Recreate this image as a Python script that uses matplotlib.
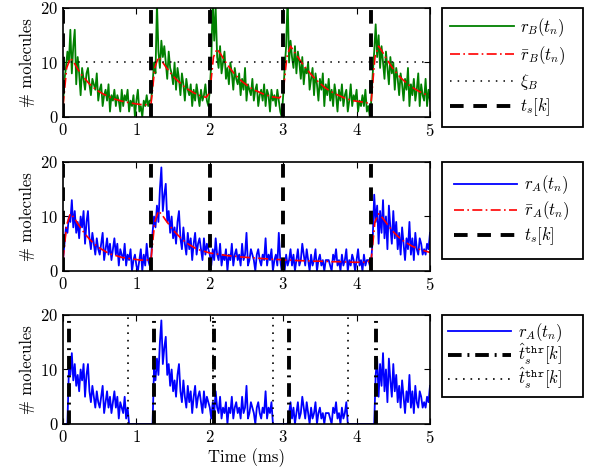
import numpy as np
import matplotlib
matplotlib.use("Agg")
import matplotlib.pyplot as plt

plt.rcParams["font.family"] = "cmr10"
plt.rcParams["mathtext.fontset"] = "cm"
plt.rcParams["axes.formatter.use_mathtext"] = True

# sample times (ms)
t = np.round(np.arange(251) * 0.02, 2)
t_mean = np.round(np.arange(101) * 0.05, 2)

# noisy molecule counts
r_B = [2, 7, 9, 12, 10, 16, 8, 13, 16, 6, 11, 8, 4, 9, 7, 5, 8, 9, 6, 4,
       7, 6, 5, 8, 3, 5, 6, 2, 4, 5, 3, 6, 1, 4, 3, 5, 2, 4, 3, 1,
       5, 2, 4, 3, 5, 1, 3, 2, 4, 0, 3, 5, 1, 2, 0, 3, 2, 4, 2, 3,
       3, 6, 10, 8, 21, 12, 9, 14, 11, 13, 10, 7, 12, 9, 8, 6, 10, 5, 9, 7,
       4, 8, 6, 3, 7, 5, 4, 6, 2, 5, 3, 6, 4, 2, 5, 3, 4, 6, 3, 2,
       5, 10, 22, 14, 20, 11, 9, 13, 8, 10, 12, 7, 9, 6, 10, 8, 5, 9, 7, 6,
       8, 4, 7, 5, 9, 3, 6, 5, 4, 7, 3, 5, 6, 2, 4, 5, 3, 6, 2, 5,
       4, 1, 5, 3, 4, 2, 5, 3, 1, 0,
       4, 9, 13, 22, 10, 14, 11, 9, 13, 8, 12, 10, 7, 11, 6, 9, 8, 10, 5, 7,
       9, 4, 8, 6, 3, 7, 5, 8, 2, 6, 4, 7, 3, 5, 2, 6, 4, 1, 5, 3,
       6, 2, 4, 5, 1, 3, 6, 2, 4, 3, 5, 1, 3, 2, 4, 2, 5, 1, 2, 0,
       3, 8, 12, 17, 11, 15, 9, 13, 10, 7, 12, 9, 6, 11, 8, 10, 5, 9, 7, 4,
       8, 6, 3, 7, 5, 9, 2, 6, 4, 7, 3, 5, 8, 2, 6, 4, 3, 7, 2, 5, 3]

r_A = [2, 5, 8, 7, 10, 9, 13, 8, 11, 7, 9, 6, 10, 8, 11, 5, 9, 11, 6, 4,
       7, 5, 3, 6, 4, 3, 5, 7, 2, 4, 6, 3, 5, 2, 4, 6, 3, 5, 1, 4,
       3, 2, 5, 1, 3, 2, 4, 0, 2, 3, 1, 0, 2, 4, 0, 3, 1, 5, 2, 1,
       2, 7, 10, 8, 12, 9, 15, 19, 11, 14, 16, 9, 11, 7, 10, 6, 8, 5, 9, 11,
       6, 4, 8, 5, 3, 7, 4, 6, 2, 5, 7, 3, 5, 6, 4, 2, 6, 3, 5, 4,
       3, 1, 4, 2, 6, 3, 2, 5, 1, 3, 2, 4, 0, 3, 2, 5, 1, 3, 4, 2,
       3, 1, 5, 2, 3, 7, 1, 2, 4, 3, 2, 0, 3, 4, 2, 1, 3, 2, 6, 1,
       3, 2, 4, 0, 2, 3, 1, 7, 2, 0,
       2, 0, 3, 1, 2, 4, 1, 3, 0, 2, 4, 1, 2, 5, 3, 1, 4, 2, 0, 3,
       1, 2, 4, 0, 2, 3, 1, 2, 0, 2, 2, 2, 1, 0, 3, 2, 4, 1, 2, 0,
       3, 1, 2, 4, 0, 2, 1, 3, 2, 0, 2, 4, 1, 2, 0, 3, 1, 2, 2, 1,
       2, 6, 14, 9, 12, 5, 11, 7, 13, 6, 10, 4, 12, 8, 5, 11, 6, 9, 4, 7,
       3, 8, 5, 2, 6, 4, 9, 3, 6, 2, 7, 4, 3, 6, 5, 3, 4, 3, 5, 4, 7]

# expected counts
rbar_B = [2, 9, 10.8, 10, 8.8, 7.8, 7, 6.2, 5.6, 5, 4.6, 4.2, 3.9, 3.6, 3.3, 3.1,
          2.9, 2.8, 2.6, 2.5, 2.4, 2.3, 2.3, 2.2,
          2.5, 9, 11, 10.2, 9.2, 8.3, 7.5, 6.8, 6.2, 5.6, 5.1, 4.7, 4.3, 4.0, 3.8, 3.6,
          4.5, 11, 12.5, 11.5, 10.4, 9.4, 8.5, 7.7, 7, 6.4, 5.9, 5.4, 5, 4.7, 4.4, 4.1,
          3.9, 3.7, 3.6, 3.5,
          4.5, 11, 13, 12, 11, 10, 9.1, 8.3, 7.5, 6.8, 6.2, 5.6, 5.1, 4.7, 4.3, 4.0,
          3.7, 3.4, 3.2, 3.0, 2.9, 2.8, 2.7, 2.6,
          3.0, 11, 13, 12, 10.8, 9.8, 8.8, 8, 7.2, 6.6, 6, 5.5, 5.1, 4.7, 4.4, 4.1, 3.9]

rbar_A = [2, 8.5, 10.5, 9.8, 8.7, 7.7, 6.8, 6, 5.3, 4.7, 4.2, 3.8, 3.4, 3.1, 2.9, 2.7,
          2.5, 2.4, 2.3, 2.2, 2.1, 2.0, 2.0, 2.0,
          2.3, 9, 11, 10.3, 9.3, 8.4, 7.5, 6.8, 6.1, 5.5, 5, 4.6, 4.2, 3.9, 3.7, 3.5,
          3.3, 3.2, 3.1, 3.0, 2.9, 2.8, 2.75, 2.7, 2.6, 2.55, 2.5, 2.45, 2.4, 2.35,
          2.3, 2.25, 2.2, 2.15, 2.1, 2.1,
          2.0, 2.0, 2.0, 1.95, 1.9, 1.9, 1.85, 1.85, 1.8, 1.8, 1.8, 1.75, 1.75, 1.7,
          1.7, 1.7, 1.7, 1.65, 1.65, 1.6, 1.6, 1.6, 1.6, 1.6,
          2.2, 9, 10.5, 9.8, 8.9, 8, 7.2, 6.5, 5.9, 5.4, 5, 4.6, 4.3, 4.0, 3.8, 3.6, 3.4]

xi_B = 10
t_s = [0, 1.2, 2.0, 3.0, 4.2]
t_start = [0.08, 1.24, 2.06, 3.08, 4.26]
t_end = [0.88, 2.04, 2.86, 3.88]

green = "#008000"
blue = "#0000ff"
red = "#ff0000"


def vert(ax, xs, label, **kw):
    for i, x in enumerate(xs):
        ax.plot([x, x], [0, 20], label=label if i == 0 else None, **kw)


def style(ax):
    ax.set_xlim(0, 5)
    ax.set_ylim(0, 20)
    ax.set_xticks([0, 1, 2, 3, 4, 5])
    ax.set_yticks([0, 10, 20])
    ax.tick_params(direction="in", top=True, right=True, labelsize=12, length=4)
    ax.set_ylabel("# molecules", fontsize=12, labelpad=4)
    for s in ax.spines.values():
        s.set_linewidth(1.2)


def legend(ax, spacing, pad=0.5):
    leg = ax.legend(loc="upper left", bbox_to_anchor=(1.033, 0.0, 0.384, 1.0),
                    mode="expand", fontsize=12,
                    fancybox=False, edgecolor="black", framealpha=1,
                    handlelength=3.8, handletextpad=0.4, labelspacing=spacing,
                    borderpad=pad, borderaxespad=0)
    leg.get_frame().set_linewidth(1.3)


fig = plt.figure(figsize=(5.9, 4.75), dpi=100)
L, W, H = 0.1068, 0.622, 0.2295
ax1 = fig.add_axes([L, 0.7537, W, H])
ax2 = fig.add_axes([L, 0.4295, W, H])
ax3 = fig.add_axes([L, 0.1074, W, H])

dash = dict(color="black", lw=2.8, linestyle=(0, (3.5, 2.5)))
dashdot_red = (0, (6, 2, 1, 2))

# top: receiver B
ax1.plot(t, r_B, color=green, lw=1.3, label=r"$r_B(t_n)$")
ax1.plot(t_mean, rbar_B, color=red, lw=1.2, linestyle=dashdot_red,
         label=r"$\bar{r}_B(t_n)$")
ax1.axhline(xi_B, color="black", lw=1.1, linestyle=(0, (1, 4)), label=r"$\xi_B$")
vert(ax1, t_s, r"$t_s[k]$", **dash)
style(ax1)
legend(ax1, 0.3)

# middle: receiver A
ax2.plot(t, r_A, color=blue, lw=1.3, label=r"$r_A(t_n)$")
ax2.plot(t_mean, rbar_A, color=red, lw=1.2, linestyle=dashdot_red,
         label=r"$\bar{r}_A(t_n)$")
vert(ax2, t_s, r"$t_s[k]$", **dash)
style(ax2)
legend(ax2, 0.2, pad=0.7)

# bottom: thresholded detection
r_A_arr = np.array(r_A, dtype=float)
mask = np.zeros(len(t), dtype=bool)
ends = t_end + [5.01]
for a, b in zip(t_start, ends):
    mask |= (t >= a) & (t <= b)
r_thr = np.where(mask, r_A_arr, 0)

ax3.plot(t, r_thr, color=blue, lw=1.3, label=r"$r_A(t_n)$")
vert(ax3, t_start, r"$\hat{t}_s^{\mathtt{thr}}[k]$", color="black", lw=2.8,
     linestyle=(0, (3.5, 1.5, 0.5, 1.5)))
vert(ax3, t_end, r"$\hat{t}_s^{\mathtt{thr}}[k]$", color="black", lw=1.2,
     linestyle=(0, (1, 3.5)))
style(ax3)
ax3.set_xlabel("Time (ms)", fontsize=12, labelpad=2)
legend(ax3, -0.1, pad=0.35)

fig.savefig("out.png", dpi=100)
